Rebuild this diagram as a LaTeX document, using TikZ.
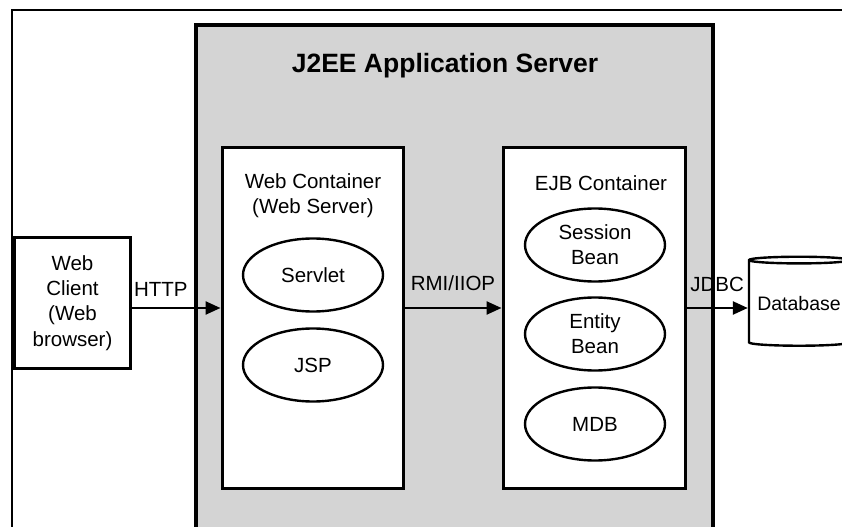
\documentclass[tikz,border=0pt]{standalone}
\usepackage{fontspec}
\setmainfont{Liberation Sans}
\usepackage{tikz}
\usetikzlibrary{shapes}
\usetikzlibrary{positioning}
\usetikzlibrary{arrows.meta}
\definecolor{srvgray}{RGB}{212,212,212}
\tikzset{
    frameline/.style = {line width=2.2bp,black},
    serverbox/.style = {rectangle, line width=3.5bp, draw=black, fill=srvgray},
    contbox/.style = {rectangle, line width=3bp, draw=black, fill=white, inner sep=0pt},
    clientbox/.style = {rectangle, line width=3bp, draw=black, fill=white, align=center, font=\fontsize{20.5bp}{25.3bp}\selectfont},
    beannode/.style = {ellipse, line width=2.4bp, draw=black, fill=white, align=center, inner sep=0pt, minimum width=140bp, minimum height=73bp, font=\fontsize{20.5bp}{25bp}\selectfont},
    dbnode/.style = {cylinder, shape border rotate=90, aspect=0.08, line width=2.4bp, draw=black, fill=white, inner sep=0pt, minimum width=100bp, minimum height=89bp, font=\fontsize{19.5bp}{24bp}\selectfont},
    txt/.style = {align=center, inner sep=0pt, font=\fontsize{20.5bp}{25bp}\selectfont},
    titletxt/.style = {inner sep=0pt, font=\fontsize{26.5bp}{30bp}\selectfont\bfseries},
    lbl/.style = {inner sep=0pt, font=\fontsize{20.5bp}{24bp}\selectfont},
    link/.style = {line width=2.4bp, black, -{Triangle[length=15bp,width=13bp]}}
}

\begin{document}
\begin{tikzpicture}[x=1bp,y=-1bp]
\useasboundingbox (0,0) rectangle (842,527);
\clip (0,0) rectangle (842,527);
%
% outer frame (cut at right and bottom)
\coordinate (fr1) at (12,545);
\coordinate (fr2) at (12,10);
\coordinate (fr3) at (860,10);
\draw[frameline] (fr1) -- (fr2) -- (fr3);
%
% server
\node[serverbox, minimum width=517bp, minimum height=530bp] at (454.5,290) (srv) {};
\node[titletxt, anchor=base] at (445,73) (srvtitle) {J2EE Application Server};
%
% containers
\node[contbox, minimum width=181bp, minimum height=340bp] at (312.5,318) (web) {};
\node[contbox, minimum width=182bp, minimum height=340bp] at (594,318) (ejb) {};
\node[txt] at (313,196) (webtitle) {Web Container\\(Web Server)};
\node[txt] at (601,183) (ejbtitle) {EJB Container};
%
\node[beannode] at (313,275) (servlet) {Servlet};
\node[beannode] at (313,365) (jsp) {JSP};
\node[beannode] at (595,245) (session) {Session\\Bean};
\node[beannode] at (595,334) (entity) {Entity\\Bean};
\node[beannode] at (595,424) (mdb) {MDB};
%
% client and database
\node[clientbox, minimum width=115bp, minimum height=130bp] at (72.5,303) (client) {Web\\Client\\(Web\\browser)};
\node[dbnode] at (799,303.5) (db) {Database};
%
% connectors
\coordinate (row) at (0,308);
\draw[link] (client.east |- row) -- node[lbl, pos=0.33, above=10bp] {HTTP} (web.west |- row);
\draw[link] (web.east |- row) -- node[lbl, above=16bp] {RMI/IIOP} (ejb.west |- row);
\draw[link] (ejb.east |- row) -- node[lbl, above=15bp] {JDBC} (db.west |- row);

\end{tikzpicture}
\end{document}
